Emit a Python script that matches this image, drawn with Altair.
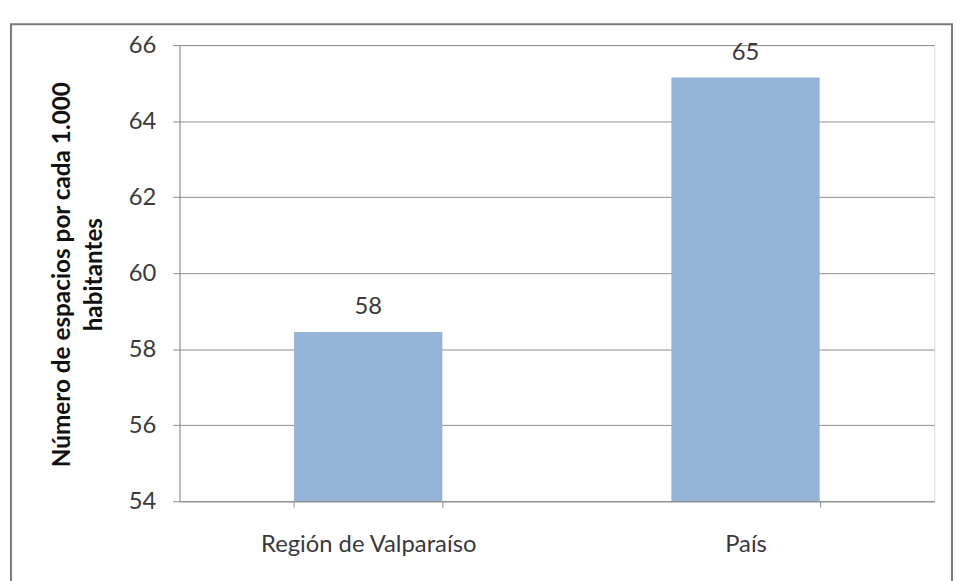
import altair as alt
import pandas as pd

categories = ["Región de Valparaíso", "País"]
values = [58.45, 65.15]
labels = ["58", "65"]
y_ticks = [54, 56, 58, 60, 62, 64, 66]

df = pd.DataFrame({"categoria": categories, "valor": values, "etiqueta": labels})

FONT = "Lato"
GRID = "#8c8c8c"
TEXT = "#3a3a3a"

x_enc = alt.X(
    "categoria:N",
    sort=categories,
    scale=alt.Scale(paddingInner=0.607, paddingOuter=0.3035),
    axis=alt.Axis(
        title=None,
        labelAngle=0,
        labelFont=FONT,
        labelFontSize=24,
        labelColor=TEXT,
        labelPadding=26,
        labelLimit=0,
        tickBand="extent",
        tickSize=6,
        tickColor=GRID,
        domainColor=GRID,
        grid=False,
    ),
)

y_enc = alt.Y(
    "valor:Q",
    scale=alt.Scale(domain=[54, 66], nice=False, zero=False),
    axis=alt.Axis(
        title=["Número de espacios por cada 1.000", "habitantes"],
        titleFont=FONT,
        titleFontSize=24.5,
        titleFontWeight="bold",
        titleColor="#111111",
        titleLineHeight=32,
        titleX=-106,
        titleY=231,
        titleAngle=-90,
        titleBaseline="bottom",
        values=y_ticks,
        labelFont=FONT,
        labelFontSize=24,
        labelColor=TEXT,
        labelPadding=17,
        tickSize=7,
        tickColor=GRID,
        domainColor=GRID,
        grid=True,
        gridColor=GRID,
    ),
)

bars = alt.Chart(df).mark_bar(color="#95B3D7", clip=True).encode(
    x=x_enc, y=y_enc, y2=alt.datum(54)
)

text = alt.Chart(df).mark_text(
    font=FONT, fontSize=24, color=TEXT, baseline="alphabetic", dy=-18
).encode(x=alt.X("categoria:N", sort=categories), y="valor:Q", text="etiqueta:N")

frame = alt.Chart(alt.Data(values=[{}])).mark_rect(
    fill=None, stroke="#7a7a7a", strokeWidth=2
).encode(
    x=alt.value(-170), x2=alt.value(779), y=alt.value(-21), y2=alt.value(600)
)

chart = alt.layer(frame, bars, text).properties(
    width=761,
    height=460,
    autosize=alt.AutoSizeParams(type="none"),
    padding={"left": 173, "top": 35, "right": 21, "bottom": 78},
).configure_view(stroke=None).configure(background="white")

chart.save("out.html", embed_options={"renderer": "svg", "actions": False})
